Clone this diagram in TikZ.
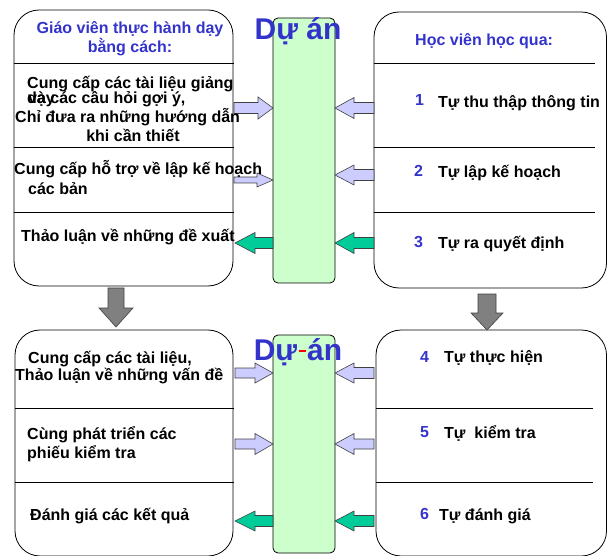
\documentclass[tikz,border=0pt]{standalone}
\usepackage{fontspec}
\setmainfont{Liberation Sans}
\definecolor{hdr}{HTML}{3333CC}
\definecolor{lav}{HTML}{CCCCFF}
\definecolor{grn}{HTML}{00CC99}
\definecolor{pale}{HTML}{CCFFCC}
\definecolor{gry}{HTML}{808080}
\newcommand\myharrow[7]{%
  \draw[fill=#7, draw=black!75, line width=0.6pt, line join=miter]
    (#1,{#3-#4}) -- (#6,{#3-#4}) -- (#6,{#3-#5}) -- (#2,#3) -- (#6,{#3+#5}) -- (#6,{#3+#4}) -- (#1,{#3+#4}) -- cycle;}
\newcommand\myvarrow[7]{%
  \draw[fill=#7, draw=black!75, line width=0.6pt, line join=miter]
    ({#3-#4},#1) -- ({#3-#4},#6) -- ({#3-#5},#6) -- (#3,#2) -- ({#3+#5},#6) -- ({#3+#4},#6) -- ({#3+#4},#1) -- cycle;}
\begin{document}
\begin{tikzpicture}[x=1pt,y=-1pt,
  txt/.style={anchor=base west, inner sep=0pt, font=\fontsize{16}{18}\selectfont\bfseries},
  ctxt/.style={anchor=base, inner sep=0pt, font=\fontsize{16}{18}\selectfont\bfseries},
  htxt/.style={txt, text=hdr},
  hctxt/.style={ctxt, text=hdr},
  num/.style={txt, text=hdr},
  title/.style={anchor=base, inner sep=0pt, text=hdr, font=\fontsize{30}{32}\selectfont\bfseries},
  panel/.style={draw=black, line width=0.8pt, rounded corners=25pt},
  proj/.style={draw=black, line width=0.8pt, fill=pale, rounded corners=5pt},
  sep/.style={draw=black, line width=0.8pt}]
\useasboundingbox (0,0) rectangle (608,556);

% panels
\draw[panel] (14,10) rectangle (233,286);
\draw[panel] (374,12) rectangle (606.5,288);
\draw[panel] (15,330) rectangle (233,556);
\draw[panel] (376,330) rectangle (606.5,556);

% dividers
\foreach \yy in {63,147,212}{
  \draw[sep] (14,\yy) -- (234,\yy);
  \draw[sep] (374,\yy) -- (595,\yy);}
\foreach \yy in {408,482}{
  \draw[sep] (15,\yy) -- (234,\yy);
  \draw[sep] (376,\yy) -- (593,\yy);}

% project bars
\draw[proj] (273,18) rectangle (335,283);
\draw[proj] (273,335) rectangle (335,553);

% arrows top
\myharrow{234}{273}{108}{5.5}{11}{258}{lav}
\myharrow{234}{273}{180}{3}{7}{257}{lav}
\myharrow{273}{235}{243}{5.5}{10.5}{255}{grn}
\myharrow{374}{335}{108}{5.5}{10.5}{354}{lav}
\myharrow{374}{335}{175}{5.5}{10}{354}{lav}
\myharrow{374}{335}{243}{5.5}{10.5}{354}{grn}
% arrows bottom
\myharrow{235}{273}{373}{5}{10}{255}{lav}
\myharrow{235}{273}{444}{5}{10.5}{255}{lav}
\myharrow{273}{235}{521}{5.5}{10}{255}{grn}
\myharrow{374}{335}{373}{5.5}{10}{354}{lav}
\myharrow{374}{335}{444}{5}{10.5}{354}{lav}
\myharrow{374}{335}{521}{5.5}{10}{354}{grn}
% down arrows
\myvarrow{288}{327}{116}{8}{17}{308}{gry}
\myvarrow{294}{330}{487}{9}{16}{313}{gry}

% titles
\node[title] (t1) at (298,40) {Dự án};
\node[title] (t2) at (298,360) {Dự\hspace{1.5pt}{\color{red}\rule[8pt]{7pt}{1.6pt}}\hspace{1.5pt}án};

% top-left texts
\node[hctxt] (a0) at (130,34) {Giáo viên thực hành dạy};
\node[hctxt] (a1) at (130,53) {bằng cách:};
\node[txt] (a2) at (27,89) {Cung cấp các tài liệu giảng};
\node[txt] (a3) at (27,104) {dạy};
\node[txt] (a4) at (28,104) {và các câu hỏi gợi ý,};
\node[txt] (a5) at (15,123) {Chỉ đưa ra những hướng dẫn};
\node[ctxt] (a6) at (133,142) {khi cần thiết};
\node[txt] (a7) at (14,175) {Cung cấp hỗ trợ về lập kế hoạch};
\node[txt] (a8) at (28,195) {các bản};
\node[txt] (a9) at (21,242) {Thảo luận về những đề xuất};

% top-right texts
\node[htxt] (b0) at (415,46) {Học viên học qua:};
\node[num] (n1) at (415,106) {1};
\node[txt] (b1) at (438,108) {Tự thu thập thông tin};
\node[num] (n2) at (414,177) {2};
\node[txt] (b2) at (438,178) {Tự lập kế hoạch};
\node[num] (n3) at (414,248) {3};
\node[txt] (b3) at (438,249) {Tự ra quyết định};

% bottom-left texts
\node[txt] (c1) at (28,363) {Cung cấp các tài liệu,};
\node[txt] (c2) at (15,380) {Thảo luận về những vấn đề};
\node[txt] (c3) at (27,439) {Cùng phát triển các};
\node[txt] (c4) at (27,458) {phiếu kiểm tra};
\node[txt] (c5) at (30,520) {Đánh giá các kết quả};

% bottom-right texts
\node[num] (n4) at (420,362) {4};
\node[txt] (d1) at (444,362) {Tự thực hiện};
\node[num] (n5) at (420,437) {5};
\node[txt] (d2) at (444,438) {Tự\ \ kiểm tra};
\node[num] (n6) at (420,519) {6};
\node[txt] (d3) at (439,520) {Tự đánh giá};
\end{tikzpicture}
\end{document}
